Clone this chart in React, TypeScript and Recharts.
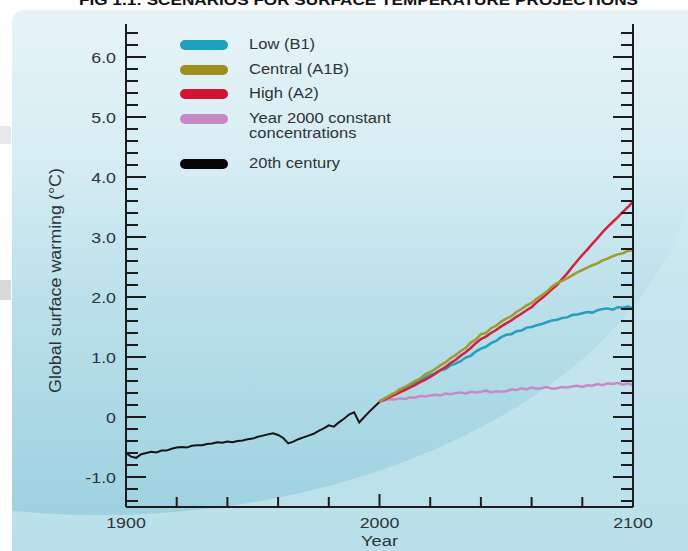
import React from "react";
import { LineChart, Line, XAxis, YAxis, Label } from "recharts";

const FONT = "'Liberation Sans', Arial, sans-serif";
const TEXT = "#2e3336";
const AXIS = "#1c1c1c";

// years on the chart, two-year steps
const histYears = Array.from({ length: 51 }, (_, i) => 1900 + i * 2);
const projYears = Array.from({ length: 51 }, (_, i) => 2000 + i * 2);

// observed 20th century warming (°C)
const hist20th = [
  -0.6, -0.66, -0.68, -0.62, -0.6, -0.58, -0.59, -0.56, -0.56, -0.53,
  -0.51, -0.5, -0.51, -0.48, -0.47, -0.47, -0.45, -0.44, -0.42, -0.43,
  -0.41, -0.42, -0.4, -0.39, -0.37, -0.36, -0.33, -0.31, -0.29, -0.27,
  -0.3, -0.35, -0.44, -0.41, -0.37, -0.34, -0.31, -0.28, -0.23, -0.19,
  -0.14, -0.16, -0.09, -0.03, 0.04, 0.08, -0.09, 0.0, 0.09, 0.17, 0.25,
];

const lowB1 = [
  0.26, 0.3, 0.35, 0.38, 0.44, 0.48, 0.52, 0.57, 0.61, 0.66,
  0.7, 0.73, 0.78, 0.8, 0.86, 0.89, 0.93, 0.99, 1.02, 1.09,
  1.14, 1.17, 1.23, 1.27, 1.33, 1.37, 1.38, 1.43, 1.44, 1.49,
  1.5, 1.53, 1.55, 1.58, 1.61, 1.62, 1.65, 1.66, 1.7, 1.71,
  1.73, 1.75, 1.74, 1.78, 1.8, 1.81, 1.79, 1.83, 1.82, 1.84, 1.81,
];

const centralA1B = [
  0.26, 0.31, 0.36, 0.4, 0.46, 0.5, 0.55, 0.6, 0.64, 0.71,
  0.75, 0.8, 0.86, 0.91, 0.98, 1.03, 1.1, 1.15, 1.24, 1.29,
  1.38, 1.4, 1.48, 1.52, 1.59, 1.64, 1.68, 1.75, 1.8, 1.86,
  1.9, 1.97, 2.03, 2.09, 2.17, 2.23, 2.27, 2.31, 2.36, 2.41,
  2.45, 2.49, 2.53, 2.56, 2.61, 2.64, 2.68, 2.71, 2.73, 2.77, 2.78,
];

const highA2 = [
  0.26, 0.29, 0.33, 0.37, 0.41, 0.45, 0.49, 0.53, 0.58, 0.62,
  0.67, 0.72, 0.78, 0.83, 0.9, 0.95, 1.02, 1.08, 1.15, 1.23,
  1.3, 1.34, 1.4, 1.45, 1.51, 1.56, 1.61, 1.67, 1.72, 1.78,
  1.83, 1.91, 1.98, 2.05, 2.13, 2.2, 2.3, 2.39, 2.5, 2.6,
  2.7, 2.79, 2.89, 2.98, 3.08, 3.17, 3.25, 3.33, 3.42, 3.5, 3.59,
];

const constant2000 = [
  0.25, 0.28, 0.3, 0.29, 0.31, 0.3, 0.33, 0.32, 0.35, 0.34,
  0.36, 0.37, 0.36, 0.39, 0.38, 0.4, 0.41, 0.39, 0.42, 0.41,
  0.42, 0.44, 0.41, 0.43, 0.42, 0.43, 0.46, 0.45, 0.48, 0.46,
  0.49, 0.47, 0.48, 0.5, 0.47, 0.48, 0.5, 0.49, 0.51, 0.52,
  0.5, 0.53, 0.52, 0.55, 0.53, 0.56, 0.55, 0.57, 0.54, 0.56, 0.53,
];

const xTicks = [1900, 1920, 1940, 1960, 1980, 2000, 2020, 2040, 2060, 2080, 2100];
const xLabelled = [1900, 2000, 2100];
const yMajorTicks = [-1, 0, 1, 2, 3, 4, 5, 6];
const yMajorLabels = ["-1.0", "0", "1.0", "2.0", "3.0", "4.0", "5.0", "6.0"];
// minor ticks every 0.2
const yTicks = Array.from({ length: 40 }, (_, i) => Math.round((-1.4 + i * 0.2) * 10) / 10);

const legendItems = [
  { key: "low", label: ["Low (B1)"], color: "#1d9fc2" },
  { key: "central", label: ["Central (A1B)"], color: "#9c8f1f" },
  { key: "high", label: ["High (A2)"], color: "#d01530" },
  { key: "constant", label: ["Year 2000 constant", "concentrations"], color: "#c589c6" },
  { key: "hist", label: ["20th century"], color: "#050505" },
];

const lineColors: Record<string, string> = {
  hist: "#141414",
  constant: "#c78ac8",
  low: "#269fbb",
  central: "#a29a2c",
  high: "#d4223d",
};

const rows = new Map<number, any>();
const row = (yr: number) => {
  if (!rows.has(yr)) rows.set(yr, { year: yr });
  return rows.get(yr);
};
histYears.forEach((yr, i) => (row(yr).hist = hist20th[i]));
projYears.forEach((yr, i) => {
  const r = row(yr);
  r.low = lowB1[i];
  r.central = centralA1B[i];
  r.high = highA2[i];
  r.constant = constant2000[i];
});
const data = [...rows.values()].sort((a, b) => a.year - b.year);

const majorIndex = (v: number) => yMajorTicks.findIndex((m) => Math.abs(m - v) < 1e-6);

function LeftTick({ x, y, payload }: any) {
  const idx = majorIndex(payload.value);
  const len = idx >= 0 ? 20 : 12;
  return (
    <g>
      <line x1={x} x2={x + len} y1={y} y2={y} stroke={AXIS} strokeWidth={2} />
      {idx >= 0 && (
        <text
          transform={`translate(${x - 10},${y + 5.5}) scale(1.15,1)`}
          textAnchor="end"
          fontFamily={FONT}
          fontSize={15.5}
          fill={TEXT}
        >
          {yMajorLabels[idx]}
        </text>
      )}
    </g>
  );
}

function RightTick({ x, y, payload }: any) {
  const len = majorIndex(payload.value) >= 0 ? 20 : 12;
  return <line x1={x} x2={x - len} y1={y} y2={y} stroke={AXIS} strokeWidth={2} />;
}

function BottomTick({ x, y, payload }: any) {
  const v = payload.value;
  const labelled = xLabelled.includes(v);
  const len = v === 2000 ? 13 : 10;
  return (
    <g>
      {v !== 1900 && v !== 2100 && (
        <line x1={x} x2={x} y1={y} y2={y - len} stroke={AXIS} strokeWidth={2} />
      )}
      {labelled && (
        <text
          transform={`translate(${x},${y + 21}) scale(1.15,1)`}
          textAnchor="middle"
          fontFamily={FONT}
          fontSize={15.5}
          fill={TEXT}
        >
          {v}
        </text>
      )}
    </g>
  );
}

function YTitle({ viewBox }: any) {
  const cx = viewBox.x - 30;
  const cy = viewBox.y + viewBox.height / 2 + 15;
  return (
    <text
      transform={`translate(${cx},${cy}) rotate(-90)`}
      textAnchor="middle"
      dy={5}
      fontFamily={FONT}
      fontSize={16}
      fill={TEXT}
      textLength={225}
      lengthAdjust="spacingAndGlyphs"
    >
      Global surface warming (°C)
    </text>
  );
}

function XTitle({ viewBox }: any) {
  return (
    <text
      transform={`translate(${viewBox.x + viewBox.width / 2},${viewBox.y + 39}) scale(1.18,1)`}
      textAnchor="middle"
      fontFamily={FONT}
      fontSize={15.5}
      fill={TEXT}
    >
      Year
    </text>
  );
}

function LegendBox() {
  return (
    <div
      style={{
        position: "absolute",
        left: 180,
        top: 37,
        fontFamily: FONT,
        fontSize: 14,
        color: TEXT,
      }}
    >
      {legendItems.map((it) => (
        <div
          key={it.key}
          style={{
            display: "flex",
            alignItems: "flex-start",
            marginBottom: it.label.length > 1 ? 14 : 9,
          }}
        >
          <div
            style={{
              width: 48,
              height: 10,
              marginTop: 3,
              borderRadius: 5,
              background: it.color,
              flex: "none",
            }}
          />
          <div style={{ marginLeft: 21, lineHeight: "15.5px" }}>
            {it.label.map((l) => (
              <div
                key={l}
                style={{ transform: "scaleX(1.18)", transformOrigin: "left", whiteSpace: "nowrap" }}
              >
                {l}
              </div>
            ))}
          </div>
        </div>
      ))}
    </div>
  );
}

export default function App() {
  return (
    <div
      style={{
        position: "absolute",
        left: 0,
        top: 0,
        width: 688,
        height: 551,
        background: "#ffffff",
        overflow: "hidden",
      }}
    >
      <div style={{ position: "absolute", left: 0, top: 126, width: 11, height: 18, background: "#e8e8ec" }} />
      <div style={{ position: "absolute", left: 0, top: 280, width: 11, height: 20, background: "#d9d9dd" }} />
      <div
        style={{
          position: "absolute",
          left: 12,
          top: 10,
          width: 676,
          height: 541,
          borderTopLeftRadius: 12,
          overflow: "hidden",
          background: "linear-gradient(180deg, #e7f3f7 0%, #d8eef4 25%, #c4e5ee 55%, #b9e0ea 100%)",
        }}
      >
        <div
          style={{
            position: "absolute",
            left: 88 - 600,
            top: 120 - 385,
            width: 1200,
            height: 770,
            borderRadius: "50%",
            background:
              "linear-gradient(180deg, rgba(150,205,220,0) 55%, rgba(140,200,218,0.2) 75%, rgba(130,195,215,0.5) 100%)",
          }}
        />
      </div>
      <svg style={{ position: "absolute", left: 0, top: 0 }} width={688} height={12}>
        <text
          x={79}
          y={5}
          fontFamily={FONT}
          fontWeight="bold"
          fontSize={15}
          fill="#111"
          textLength={559}
          lengthAdjust="spacingAndGlyphs"
        >
          FIG 1.1: SCENARIOS FOR SURFACE TEMPERATURE PROJECTIONS
        </text>
      </svg>
      <div style={{ position: "absolute", left: 0, top: 0 }}>
        <LineChart
          width={688}
          height={551}
          data={data}
          margin={{ top: 24, right: 45, bottom: 14, left: 86 }}
        >
          <XAxis
            dataKey="year"
            type="number"
            domain={[1900, 2100]}
            ticks={xTicks}
            interval={0}
            tickSize={0}
            tickMargin={0}
            tickLine={false}
            height={30}
            axisLine={{ stroke: AXIS, strokeWidth: 2 }}
            tick={<BottomTick />}
          >
            <Label content={<XTitle />} />
          </XAxis>
          <YAxis
            yAxisId="left"
            type="number"
            domain={[-1.5, 6.55]}
            ticks={yTicks}
            interval={0}
            width={40}
            tickSize={0}
            tickMargin={0}
            tickLine={false}
            axisLine={{ stroke: AXIS, strokeWidth: 2 }}
            tick={<LeftTick />}
            allowDataOverflow
          >
            <Label content={<YTitle />} />
          </YAxis>
          <YAxis
            yAxisId="right"
            orientation="right"
            type="number"
            domain={[-1.5, 6.55]}
            ticks={yTicks}
            interval={0}
            width={10}
            tickSize={0}
            tickMargin={0}
            tickLine={false}
            axisLine={{ stroke: AXIS, strokeWidth: 2 }}
            tick={<RightTick />}
            allowDataOverflow
          />
          <Line yAxisId="left" dataKey="hist" stroke={lineColors.hist} strokeWidth={2} dot={false} isAnimationActive={false} />
          <Line yAxisId="left" dataKey="constant" stroke={lineColors.constant} strokeWidth={2.5} dot={false} isAnimationActive={false} />
          <Line yAxisId="left" dataKey="low" stroke={lineColors.low} strokeWidth={2.5} dot={false} isAnimationActive={false} />
          <Line yAxisId="left" dataKey="high" stroke={lineColors.high} strokeWidth={2.5} dot={false} isAnimationActive={false} />
          <Line yAxisId="left" dataKey="central" stroke={lineColors.central} strokeWidth={2.5} dot={false} isAnimationActive={false} />
        </LineChart>
      </div>
      <LegendBox />
    </div>
  );
}
